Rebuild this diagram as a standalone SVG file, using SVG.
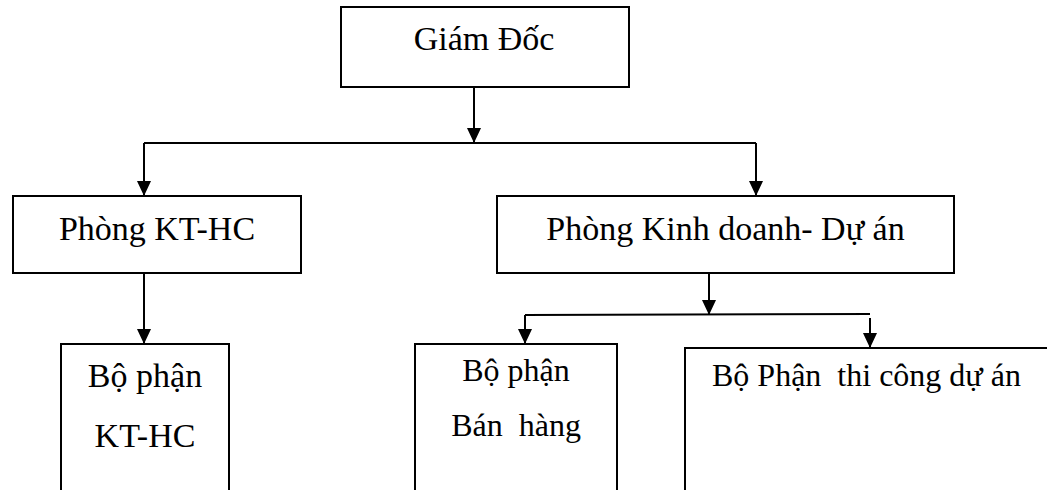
<svg xmlns="http://www.w3.org/2000/svg" width="1047" height="490" viewBox="0 0 1047 490">
  <style>
    .box { fill: #ffffff; stroke: #000000; stroke-width: 2; }
    .lbl { font-family: 'Liberation Serif', 'DejaVu Serif', serif; font-size: 34px; fill: #000000; }
    .sm { font-size: 32px; }
    .mid { text-anchor: middle; }
    .con { fill: none; stroke: #000000; stroke-width: 2; }
  </style>
  <defs>
    <marker id="arr" viewBox="0 0 15 14" refX="15" refY="7" markerWidth="15" markerHeight="14" markerUnits="userSpaceOnUse" orient="auto">
      <path d="M0,0 L15,7 L0,14 Z" fill="#000000"/>
    </marker>
  </defs>
  <rect width="1047" height="490" fill="#ffffff"/>

  <g id="connectors">
    <line class="con" x1="474" y1="87" x2="474" y2="143" marker-end="url(#arr)"/>
    <line class="con" x1="144" y1="143" x2="756" y2="143"/>
    <line class="con" x1="144" y1="143" x2="144" y2="196" marker-end="url(#arr)"/>
    <line class="con" x1="756" y1="143" x2="756" y2="196" marker-end="url(#arr)"/>
    <line class="con" x1="144" y1="273" x2="144" y2="344" marker-end="url(#arr)"/>
    <line class="con" x1="709" y1="273" x2="709" y2="315" marker-end="url(#arr)"/>
    <line class="con" x1="525" y1="315" x2="870" y2="314"/>
    <line class="con" x1="525" y1="315" x2="525" y2="344" marker-end="url(#arr)"/>
    <line class="con" x1="870" y1="318" x2="870" y2="348" marker-end="url(#arr)"/>
  </g>

  <g id="giam-doc">
    <rect class="box" x="341" y="7" width="288" height="80"/>
    <text class="lbl mid" x="484" y="50">Giám Đốc</text>
  </g>

  <g id="phong-kthc">
    <rect class="box" x="13" y="196" width="288" height="77"/>
    <text class="lbl mid" x="157" y="240">Phòng KT-HC</text>
  </g>

  <g id="phong-kinh-doanh">
    <rect class="box" x="497" y="196" width="457" height="77"/>
    <text class="lbl mid" x="725.5" y="240">Phòng Kinh doanh- Dự án</text>
  </g>

  <g id="bo-phan-kthc">
    <rect class="box" x="61" y="344" width="168" height="160"/>
    <text class="lbl mid" x="145" y="387">Bộ phận</text>
    <text class="lbl mid" x="145" y="447">KT-HC</text>
  </g>

  <g id="bo-phan-ban-hang">
    <rect class="box" x="415" y="344" width="202" height="160"/>
    <text class="lbl sm mid" x="516" y="381">Bộ phận</text>
    <text class="lbl sm mid" x="516" y="436" xml:space="preserve">Bán  hàng</text>
  </g>

  <g id="bo-phan-thi-cong">
    <rect class="box" x="685" y="348" width="380" height="160"/>
    <text class="lbl sm" x="712" y="386" xml:space="preserve">Bộ Phận  thi công dự án</text>
  </g>
</svg>
